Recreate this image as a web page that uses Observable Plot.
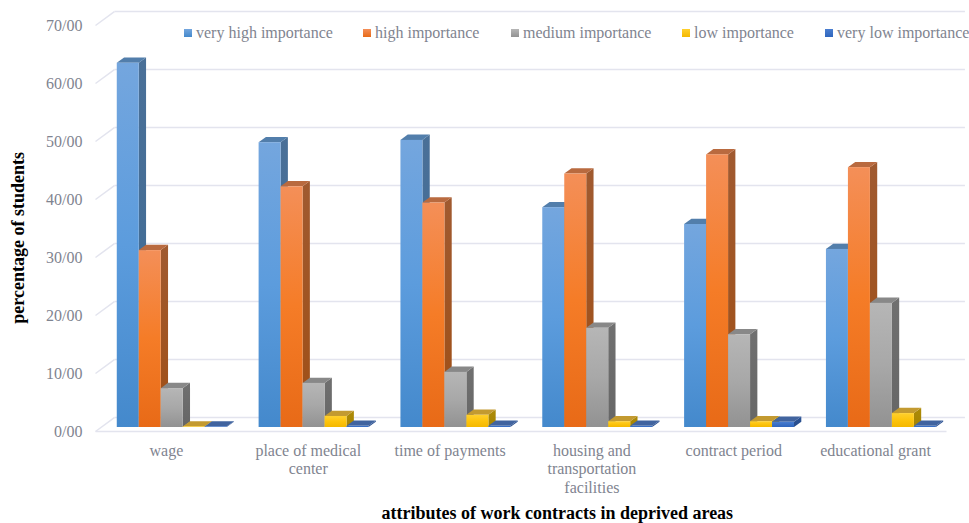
<!DOCTYPE html>
<html>
<head>
<meta charset="utf-8">
<script src="https://cdn.jsdelivr.net/npm/d3@7"></script>
<script src="https://cdn.jsdelivr.net/npm/@observablehq/plot@0.6"></script>
<style>
  html, body { margin: 0; padding: 0; background: #fff; }
  #wrap { position: relative; width: 969px; height: 523px; overflow: hidden; font-family: "Liberation Serif", serif; }
  #legend { position: absolute; top: 0; left: 0; font-size: 16px; color: #7f8490; }
  #legend .item { position: absolute; top: 24px; white-space: nowrap; line-height: 18px; }
  #legend .sw { display: inline-block; width: 8px; height: 8px; margin-right: 4px; vertical-align: 1px; }
</style>
</head>
<body>
<div id="wrap"><div id="chart"></div><div id="legend"></div></div>
<script>
const categories = ["wage", "place of medical\ncenter", "time of payments", "housing and\ntransportation\nfacilities", "contract period", "educational grant"];
const seriesNames = ["very high importance", "high importance", "medium importance", "low importance", "very low importance"];
const veryHigh = [62.8, 49.1, 49.5, 37.9, 35.0, 30.7];
const high     = [30.5, 41.5, 38.7, 43.7, 47.0, 44.8];
const medium   = [6.7, 7.6, 9.5, 17.1, 16.0, 21.4];
const low      = [0.1, 1.9, 2.1, 1.0, 1.0, 2.4];
const veryLow  = [0.1, 0.2, 0.2, 0.2, 0.9, 0.2];
const seriesValues = [veryHigh, high, medium, low, veryLow];
const yTicks = [0, 10, 20, 30, 40, 50, 60, 70];
const yTitle = "percentage of students";
const xTitle = "attributes of work contracts in deprived areas";

// paint per series: gradient top, middle, bottom, side top, side bottom, top face
const paints = [
  ["#74a6de", "#5c9cdd", "#4489cc", "#4a7098", "#3d6a94", "#527eab"],
  ["#f48f58", "#f57c27", "#e86a17", "#a05a30", "#a04f15", "#b96a3f"],
  ["#b6b6b6", "#a8a8a8", "#929292", "#707070", "#666666", "#888888"],
  ["#ffd02e", "#fdc40c", "#f4b800", "#ad8b08", "#a58300", "#c39a30"],
  ["#4a7ed0", "#3b71c6", "#2f66bd", "#2c5496", "#284c8a", "#41649f"]
];
const legendLeft = [184, 363, 511, 682, 825];

// geometry in scale units
const barW = 0.155, groupOffset = 0.1535, depthX = 0.0515, depthY = 0.91;
const wallX = 0.133, wallY = 1.72, floorY = -0.69, floorEnd = 6, wallEnd = 6.13;

const defsMark = () => {
  const defs = d3.create("svg:defs");
  const addGrad = (id, stops) => {
    const g = defs.append("linearGradient").attr("id", id)
      .attr("x1", 0).attr("x2", 0).attr("y1", 0).attr("y2", 1);
    stops.forEach((c, k) => g.append("stop").attr("offset", k / (stops.length - 1)).attr("stop-color", c));
  };
  paints.forEach((p, i) => {
    addGrad(`bar-front-${i}`, p.slice(0, 3));
    addGrad(`bar-side-${i}`, p.slice(3, 5));
  });
  return defs.node();
};

const gridColor = "#e3e4ee";
const wallLines = yTicks.map(t => ({x1: wallX, x2: wallEnd, y1: t + wallY, y2: t + wallY}));
const sideLines = yTicks.map(t => ({x1: 0, x2: wallX, y1: t + floorY, y2: t + wallY}));
const floorLine = [{x1: 0, x2: floorEnd, y1: floorY, y2: floorY}];

const barMarks = seriesValues.flatMap((vals, s) => {
  const rows = vals.map((v, c) => ({c, v, xL: c + groupOffset + s * barW, xR: c + groupOffset + (s + 1) * barW}));
  const side = rows.flatMap(r => [
    {c: r.c, x: r.xR, y1: 0, y2: r.v},
    {c: r.c, x: r.xR + depthX, y1: depthY, y2: r.v + depthY}
  ]);
  const top = rows.flatMap(r => [
    {c: r.c, x: r.xL, y1: r.v, y2: r.v},
    {c: r.c, x: r.xL + depthX, y1: r.v, y2: r.v + depthY},
    {c: r.c, x: r.xR, y1: r.v, y2: r.v + depthY},
    {c: r.c, x: r.xR + depthX, y1: r.v + depthY, y2: r.v + depthY}
  ]);
  return [
    Plot.areaY(side, {x: "x", y1: "y1", y2: "y2", z: "c", fill: `url(#bar-side-${s})`}),
    Plot.areaY(top, {x: "x", y1: "y1", y2: "y2", z: "c", fill: paints[s][5]}),
    Plot.rect(rows, {x1: "xL", x2: "xR", y1: 0, y2: "v", fill: `url(#bar-front-${s})`})
  ];
});

const chart = Plot.plot({
  width: 969,
  height: 523,
  marginLeft: 95,
  marginRight: 23,
  marginTop: 0,
  marginBottom: 92,
  style: {fontFamily: "'Liberation Serif', serif", background: "#fff", overflow: "visible"},
  x: {domain: [0, 6], range: [95, 946], axis: null},
  y: {domain: [0, 70], range: [427, 21], axis: null},
  marks: [
    defsMark,
    Plot.link(wallLines, {x1: "x1", x2: "x2", y1: "y1", y2: "y2", stroke: gridColor, strokeWidth: 1.5}),
    Plot.link(sideLines, {x1: "x1", x2: "x2", y1: "y1", y2: "y2", stroke: gridColor, strokeWidth: 1.5}),
    Plot.link(floorLine, {x1: "x1", x2: "x2", y1: "y1", y2: "y2", stroke: gridColor, strokeWidth: 1.5}),
    ...barMarks,
    Plot.axisY({ticks: yTicks, tickFormat: d => `${d}/00`, tickSize: 0, tickPadding: 13, dy: 4.5, fontSize: 16, fill: "#7f8490", label: null}),
    Plot.text(categories, {
      x: (d, i) => i + 0.5,
      frameAnchor: "bottom",
      lineAnchor: "top",
      dy: 11,
      fontSize: 16,
      lineHeight: 1.16,
      fill: "#7f8490",
      text: d => d
    }),
    Plot.text([yTitle], {
      x: -0.545, y: 32.7, rotate: -90, fontSize: 18, fontWeight: "bold", fill: "#000", text: d => d
    }),
    Plot.text([xTitle], {
      x: 3.256, y: -14.85, fontSize: 18, fontWeight: "bold", fill: "#000", text: d => d
    })
  ]
});
document.getElementById("chart").appendChild(chart);

const legend = d3.select("#legend");
seriesNames.forEach((n, i) => {
  const item = legend.append("div").attr("class", "item").style("left", legendLeft[i] + "px");
  item.append("span").attr("class", "sw").style("background", `linear-gradient(${paints[i][0]}, ${paints[i][2]})`);
  item.append("span").text(n);
});
</script>
</body>
</html>
